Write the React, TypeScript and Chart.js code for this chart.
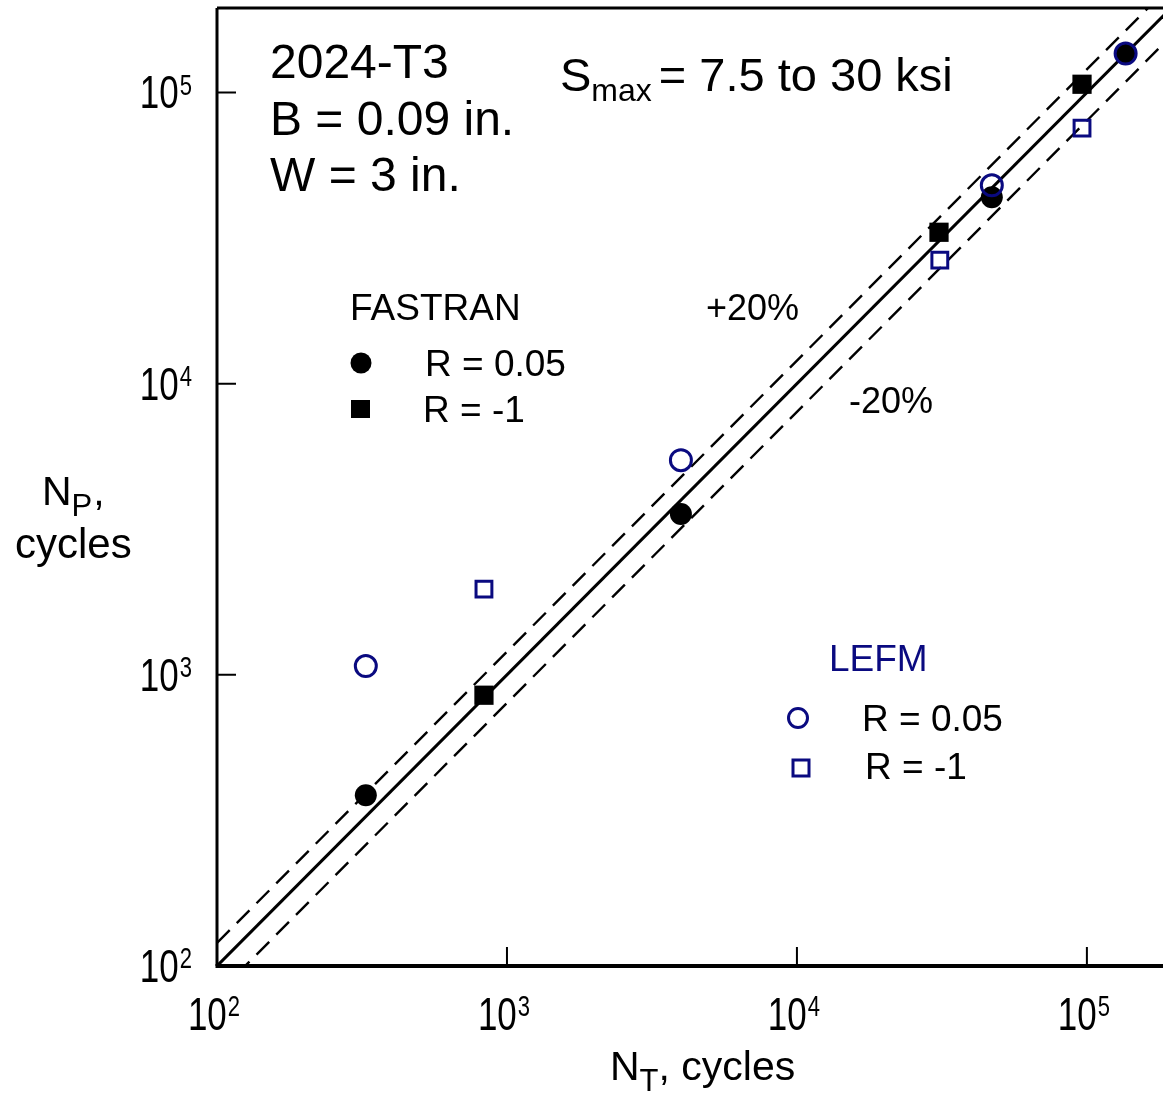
import { useEffect, useRef } from 'react';
import { Chart, registerables } from 'chart.js';

Chart.register(...registerables);

// ---- Data ----
const fastranR005X = [326, 3980, 47000, 136000];
const fastranR005Y = [386, 3565, 43650, 136000];
const fastranRm1X = [833, 30900, 96200];
const fastranRm1Y = [851, 33100, 106700];
const lefmR005X = [326, 3980, 47000, 136000];
const lefmR005Y = [1072, 5460, 47970, 136000];
const lefmRm1X = [833, 31100, 96200];
const lefmRm1Y = [1968, 26570, 75400];

const lineX = [100, 200000];
const equalY = [100, 200000];
const plus20Y = [120, 240000];
const minus20Y = [80, 160000];

const tickValues = [100, 1000, 10000, 100000];
const tickBase = ['10', '10', '10', '10'];
const tickExp = ['2', '3', '4', '5'];

const xMin = 100;
const xMax = 183000;
const yMin = 100;
const yMax = 195000;

const FONT = '"Liberation Sans", Arial, Helvetica, sans-serif';
const NAVY = '#0a0a80';

const zip = (xs: number[], ys: number[]) => xs.map((x, i) => ({ x, y: ys[i] }));

function drawSup(
  ctx: CanvasRenderingContext2D,
  x: number,
  y: number,
  base: string,
  exp: string,
  align: 'left' | 'center' | 'right',
  fs: number,
  efs: number,
  sx: number,
) {
  ctx.save();
  ctx.font = `${fs}px ${FONT}`;
  const wb = ctx.measureText(base).width * sx;
  ctx.font = `${efs}px ${FONT}`;
  const we = ctx.measureText(exp).width * sx;
  const total = wb + 1 + we;
  const left = align === 'center' ? x - total / 2 : align === 'right' ? x - total : x;
  ctx.translate(left, y);
  ctx.scale(sx, 1);
  ctx.fillStyle = '#000';
  ctx.textAlign = 'left';
  ctx.textBaseline = 'alphabetic';
  ctx.font = `${fs}px ${FONT}`;
  ctx.fillText(base, 0, 0);
  ctx.font = `${efs}px ${FONT}`;
  ctx.fillText(exp, (wb + 1) / sx, -fs * 0.3);
  ctx.restore();
}

function text(ctx: CanvasRenderingContext2D, s: string, x: number, y: number, fs: number, color = '#000') {
  ctx.font = `${fs}px ${FONT}`;
  ctx.fillStyle = color;
  ctx.textAlign = 'left';
  ctx.textBaseline = 'alphabetic';
  ctx.fillText(s, x, y);
  return ctx.measureText(s).width;
}

const decorPlugin = {
  id: 'decor',
  afterDraw(chart: any) {
    const ctx: CanvasRenderingContext2D = chart.ctx;
    const xs = chart.scales.x;
    const ys = chart.scales.y;
    const a = chart.chartArea;
    ctx.save();

    // frame
    ctx.strokeStyle = '#000';
    ctx.lineWidth = 3;
    ctx.beginPath();
    ctx.moveTo(a.left, a.top);
    ctx.lineTo(a.right, a.top);
    ctx.moveTo(a.left, a.top);
    ctx.lineTo(a.left, a.bottom);
    ctx.stroke();
    ctx.lineWidth = 4;
    ctx.beginPath();
    ctx.moveTo(a.left - 1.5, a.bottom);
    ctx.lineTo(a.right, a.bottom);
    ctx.stroke();

    // inward ticks
    ctx.lineWidth = 2;
    tickValues.forEach((v) => {
      const px = xs.getPixelForValue(v);
      const py = ys.getPixelForValue(v);
      ctx.beginPath();
      ctx.moveTo(px, a.bottom);
      ctx.lineTo(px, a.bottom - 19);
      ctx.moveTo(a.left, py);
      ctx.lineTo(a.left + 19, py);
      ctx.stroke();
    });

    // tick labels
    tickValues.forEach((v, i) => {
      const px = xs.getPixelForValue(v);
      const py = ys.getPixelForValue(v);
      drawSup(ctx, px - 3, a.bottom + 64, tickBase[i], tickExp[i], 'center', 46, 29, 0.76);
      drawSup(ctx, a.left - 25, py + 16, tickBase[i], tickExp[i], 'right', 46, 29, 0.76);
    });

    // axis titles
    let w = text(ctx, 'N', 42, 505, 41);
    w += text(ctx, 'P', 42 + w, 516, 31);
    text(ctx, ',', 42 + w + 1, 505, 41);
    text(ctx, 'cycles', 15, 558, 42);

    w = text(ctx, 'N', 610, 1080, 41);
    w += text(ctx, 'T', 610 + w, 1091, 31);
    text(ctx, ', cycles', 610 + w, 1080, 41);

    // annotation block
    text(ctx, '2024-T3', 270, 78, 48);
    text(ctx, 'B = 0.09 in.', 270, 135, 48);
    text(ctx, 'W = 3 in.', 270, 191, 48);

    w = text(ctx, 'S', 560, 91, 47);
    w += text(ctx, 'max', 560 + w, 101, 32);
    text(ctx, ' = 7.5 to 30 ksi', 560 + w - 6, 91, 47);

    // FASTRAN legend
    text(ctx, 'FASTRAN', 350, 320, 37);
    ctx.fillStyle = '#000';
    ctx.beginPath();
    ctx.arc(361, 363, 10.5, 0, Math.PI * 2);
    ctx.fill();
    ctx.fillRect(351, 400, 19, 18);
    text(ctx, 'R = 0.05', 425, 376, 37);
    text(ctx, 'R = -1', 423, 422, 37);

    text(ctx, '+20%', 706, 320, 36);
    text(ctx, '-20%', 849, 413, 36);

    // LEFM legend
    text(ctx, 'LEFM', 829, 671, 37, NAVY);
    ctx.strokeStyle = NAVY;
    ctx.lineWidth = 3;
    ctx.beginPath();
    ctx.arc(798, 718, 9.5, 0, Math.PI * 2);
    ctx.stroke();
    ctx.strokeRect(793, 760, 16, 16);
    text(ctx, 'R = 0.05', 862, 731, 37);
    text(ctx, 'R = -1', 865, 779, 37);

    ctx.restore();
  },
};

export default function App() {
  const ref = useRef<HTMLCanvasElement | null>(null);

  useEffect(() => {
    if (!ref.current) return;
    const chart = new Chart(ref.current, {
      type: 'scatter',
      data: {
        datasets: [
          {
            label: 'LEFM R = 0.05',
            data: zip(lefmR005X, lefmR005Y),
            pointStyle: 'circle',
            pointRadius: 10.5,
            borderWidth: 3,
            borderColor: NAVY,
            backgroundColor: 'rgba(0,0,0,0)',
            clip: false,
          },
          {
            label: 'LEFM R = -1',
            data: zip(lefmRm1X, lefmRm1Y),
            pointStyle: 'rect',
            pointRadius: 11.2,
            borderWidth: 3,
            borderColor: NAVY,
            backgroundColor: 'rgba(0,0,0,0)',
            clip: false,
          },
          {
            label: 'FASTRAN R = 0.05',
            data: zip(fastranR005X, fastranR005Y),
            pointStyle: 'circle',
            pointRadius: 11,
            borderWidth: 0,
            backgroundColor: '#000',
            borderColor: '#000',
            clip: false,
          },
          {
            label: 'FASTRAN R = -1',
            data: zip(fastranRm1X, fastranRm1Y),
            pointStyle: 'rect',
            pointRadius: 13.6,
            borderWidth: 0,
            backgroundColor: '#000',
            borderColor: '#000',
            clip: false,
          },
          {
            type: 'line',
            label: 'Equality',
            data: zip(lineX, equalY),
            borderColor: '#000',
            borderWidth: 3,
            pointRadius: 0,
            fill: false,
            clip: 0,
          },
          {
            type: 'line',
            label: '+20%',
            data: zip(lineX, plus20Y),
            borderColor: '#000',
            borderWidth: 2.4,
            borderDash: [18, 10],
            pointRadius: 0,
            fill: false,
            clip: 0,
          },
          {
            type: 'line',
            label: '-20%',
            data: zip(lineX, minus20Y),
            borderColor: '#000',
            borderWidth: 2.4,
            borderDash: [18, 10],
            pointRadius: 0,
            fill: false,
            clip: 0,
          },
        ] as any,
      },
      options: {
        animation: false,
        responsive: false,
        maintainAspectRatio: false,
        layout: { autoPadding: false, padding: { left: 217, top: 8, right: 0, bottom: 127 } },
        plugins: { legend: { display: false }, tooltip: { enabled: false } },
        scales: {
          x: { type: 'logarithmic', min: xMin, max: xMax, display: false },
          y: { type: 'logarithmic', min: yMin, max: yMax, display: false },
        },
      },
      plugins: [decorPlugin],
    });
    return () => chart.destroy();
  }, []);

  return (
    <div style={{ position: 'absolute', left: 0, top: 0, width: 1163, height: 1093, background: '#fff' }}>
      <canvas ref={ref} width={1163} height={1093} style={{ display: 'block' }} />
    </div>
  );
}
